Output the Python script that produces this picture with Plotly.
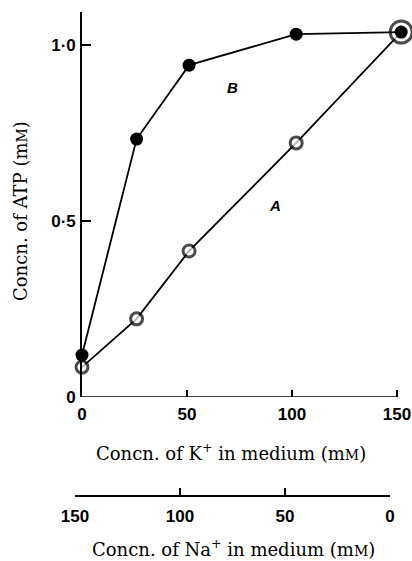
import plotly.graph_objects as go

# Data
k_conc = [0, 26, 51, 102, 152]                 # K+ in medium (mM)
atp_A = [0.085, 0.222, 0.415, 0.722, 1.037]    # curve A (open circles)
atp_B = [0.119, 0.733, 0.943, 1.031, 1.037]    # curve B (filled circles)
A_sizes = [12, 12, 12, 12, 22]

y_tickvals = [0, 0.5, 1.0]
y_ticktext = ["0", "0·5", "1·0"]
k_tickvals = [0, 50, 100, 150]
na_tickvals = [150, 100, 50, 0]
k_axis_max = 150
x_range_max = 156

W, H = 412, 561
def px(x):
    return x / W
def py(y):
    return (H - y) / H

x0_px, x150_px = 82, 397
scale = (x150_px - x0_px) / k_axis_max
x_right_px = x0_px + x_range_max * scale

tickfont = dict(family="Liberation Sans", size=17, color="black", weight="bold")
titlefont = dict(family="DejaVu Serif", size=18, color="black")
small = "<span style='font-size:14px'>M</span>"

fig = go.Figure()
fig.add_trace(go.Scatter(
    x=k_conc, y=atp_A, mode="lines+markers", cliponaxis=False,
    line=dict(color="black", width=1.8),
    marker=dict(symbol="circle", size=A_sizes, color="white",
                line=dict(color="black", width=3)),
    showlegend=False, xaxis="x", yaxis="y"))
fig.add_trace(go.Scatter(
    x=k_conc, y=atp_B, mode="lines+markers", cliponaxis=False,
    line=dict(color="black", width=1.8),
    marker=dict(symbol="circle", size=13, color="black",
                line=dict(color="black", width=0)),
    showlegend=False, xaxis="x", yaxis="y"))
# invisible trace so the Na axis is drawn
fig.add_trace(go.Scatter(x=[150, 0], y=[0, 0], mode="markers",
                         marker=dict(opacity=0), showlegend=False,
                         hoverinfo="skip", xaxis="x2", yaxis="y2"))

fig.update_layout(
    width=W, height=H, autosize=False,
    margin=dict(l=0, r=0, t=0, b=0, pad=0),
    plot_bgcolor="white", paper_bgcolor="white",
    xaxis=dict(domain=[px(x0_px), px(x_right_px)], range=[0, x_range_max], anchor="y",
               tickvals=k_tickvals, ticktext=[str(v) for v in k_tickvals],
               ticks="inside", ticklen=7, tickwidth=1.6, tickcolor="black",
               showline=False, showgrid=False, zeroline=False, tickfont=tickfont,
               ticklabelstandoff=5, automargin=False),
    yaxis=dict(domain=[py(397), py(12)], range=[0, 1.094], anchor="x",
               tickvals=y_tickvals, ticktext=y_ticktext,
               ticks="inside", ticklen=9, tickwidth=1.6, tickcolor="black",
               showline=True, linecolor="black", linewidth=1.6,
               showgrid=False, zeroline=False, tickfont=tickfont,
               ticklabelstandoff=1, automargin=False),
    xaxis2=dict(domain=[px(75), px(390)], range=[150, 0], anchor="y2",
                tickvals=na_tickvals, ticktext=[str(v) for v in na_tickvals],
                ticks="inside", ticklen=7, tickwidth=1.6, tickcolor="black",
                showline=True, linecolor="black", linewidth=1.6,
                showgrid=False, zeroline=False, tickfont=tickfont,
                ticklabelstandoff=5, automargin=False),
    yaxis2=dict(domain=[py(495), py(480)], range=[0, 1], anchor="x2",
                visible=False, automargin=False),
    shapes=[dict(type="line", xref="x", yref="y", x0=0, x1=k_axis_max, y0=0, y1=0,
                 line=dict(color="black", width=1.6), layer="below")],
    annotations=[
        dict(text="Concn. of K<sup>+</sup> in medium (m" + small + ")",
             x=px(231), y=py(452), xref="paper", yref="paper",
             xanchor="center", yanchor="middle", showarrow=False, font=titlefont),
        dict(text="Concn. of Na<sup>+</sup> in medium (m" + small + ")",
             x=px(233), y=py(548), xref="paper", yref="paper",
             xanchor="center", yanchor="middle", showarrow=False, font=titlefont),
        dict(text="Concn. of ATP (m" + small + ")",
             x=px(20), y=py(211), xref="paper", yref="paper", textangle=-90,
             xanchor="center", yanchor="middle", showarrow=False, font=titlefont),
        dict(text="<i>B</i>", x=px(232), y=py(77), xref="paper", yref="paper",
             showarrow=False, font=dict(family="Liberation Sans", size=15,
                                        color="black", weight="bold")),
        dict(text="<i>A</i>", x=px(283), y=py(205), xref="paper", yref="paper",
             showarrow=False, font=dict(family="Liberation Sans", size=15,
                                        color="black", weight="bold")),
    ],
)

fig.write_html("out.html")
